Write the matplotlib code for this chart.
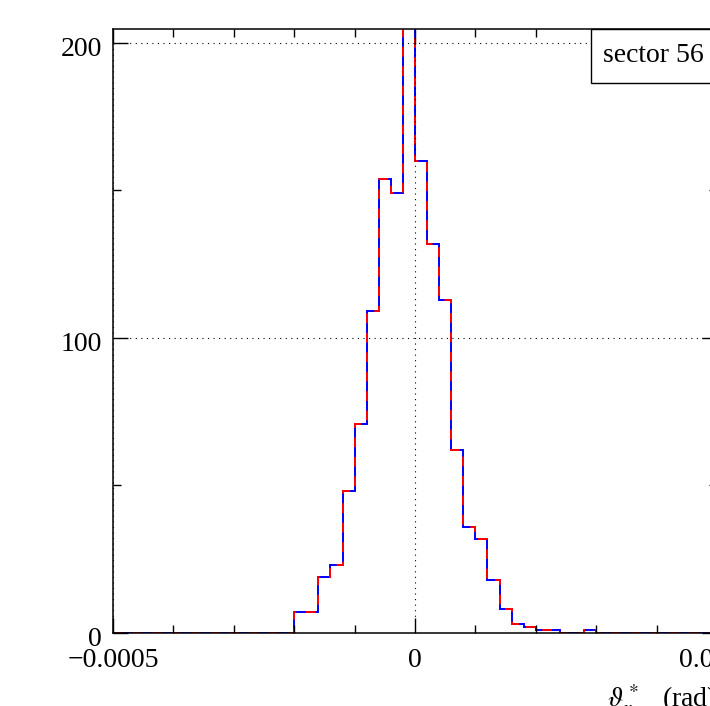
import numpy as np
import matplotlib
matplotlib.use('Agg')
import matplotlib.pyplot as plt
from matplotlib.patches import Rectangle
from matplotlib.transforms import ScaledTranslation

plt.rcParams['font.family'] = ['Liberation Serif', 'DejaVu Serif']
plt.rcParams['mathtext.fontset'] = 'stix'
plt.rcParams['font.size'] = 20

# histogram of theta*_x, bins of 2e-5 rad from -0.0005 to 0.0005
bin_edges = np.linspace(-0.0005, 0.0005, 51)
counts_blue = [0, 0, 0, 0, 0, 0, 0, 0, 0, 0,
               0, 0, 0, 0, 0, 7, 7, 19, 23, 48,
               71, 109, 154, 149, 240, 160, 132, 113, 62, 36,
               32, 18, 8, 3, 2, 1, 1, 0, 0, 1,
               0, 0, 0, 0, 0, 0, 0, 0, 0, 0]
counts_red = [0, 0, 0, 0, 0, 0, 0, 0, 0, 0,
              0, 0, 0, 0, 0, 7, 7, 19, 23, 48,
              71, 109, 154, 149, 240, 160, 132, 113, 62, 36,
              32, 18, 8, 3, 2, 1, 1, 0, 0, 1,
              0, 0, 0, 0, 0, 0, 0, 0, 0, 0]

xticks = [-0.0005, 0, 0.0005]
xtick_labels = ['\u22120.0005', '0', '0.0005']
yticks = [0, 100, 200]
ytick_labels = ['0', '100', '200']
label_text = 'sector 56'

fig = plt.figure(figsize=(7.10, 7.06), dpi=100)
W, H = 710, 706
ax = fig.add_axes([113 / W, 1 - 633 / H, (717 - 113) / W, (633 - 29) / H])

ax.stairs(counts_blue, bin_edges, color='blue', lw=1.4)
ax.stairs(counts_red, bin_edges, color='red', lw=1.4, linestyle=(0, (5, 5)))

ax.set_xlim(-0.0005, 0.0005)
ax.set_ylim(0, 204.7)

ax.set_xticks(xticks)
ax.set_xticklabels(xtick_labels)
ax.set_xticks(np.arange(-0.0005, 0.00051, 0.0001), minor=True)
ax.set_yticks(yticks)
ax.set_yticklabels(ytick_labels)
ax.set_yticks([50, 150], minor=True)

ax.tick_params(which='both', direction='in', top=True, right=True, width=1.0)
ax.tick_params(which='major', length=11, pad=11)
ax.tick_params(axis='y', which='major', pad=8)
ax.tick_params(which='minor', length=6)
for s in ax.spines.values():
    s.set_linewidth(1.1)

# y tick labels sit a little below their ticks in the original
shift = ScaledTranslation(0, -4 / 100, fig.dpi_scale_trans)
for lab in ax.get_yticklabels():
    lab.set_transform(lab.get_transform() + shift)

ax.grid(which='major', linestyle=(0, (1, 4)), color='black', lw=0.8)

ax.set_xlabel(r'$\vartheta^*_x\quad$(rad)', loc='right', labelpad=7)

# label box in the top right corner
fig.patches.append(Rectangle((591 / W, 1 - 83 / H), 0.3, 54 / H,
                             transform=fig.transFigure, facecolor='white',
                             edgecolor='black', lw=1.0, zorder=5))
fig.text(603 / W, 1 - 56 / H, label_text, ha='left', va='center', zorder=6)

fig.savefig('out.png', dpi=100)
